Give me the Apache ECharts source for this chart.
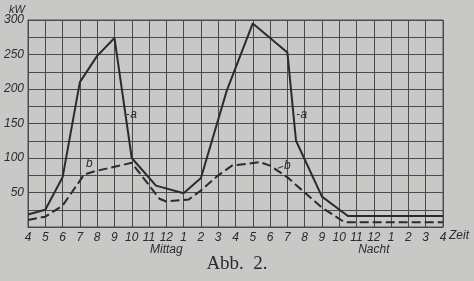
<!DOCTYPE html>
<html>
<head>
<meta charset="utf-8">
<script src="https://cdn.jsdelivr.net/npm/echarts@6/dist/echarts.min.js"></script>
<style>
html,body{margin:0;padding:0;background:#c8c8c6;}
#c{width:474px;height:281px;}
</style>
</head>
<body>
<div id="c"></div>
<script>
// hours after 4 o'clock in the morning (0 = 4 Uhr, 24 = 4 Uhr next day)
var hourLabels = ['4','5','6','7','8','9','10','11','12','1','2','3','4','5','6','7','8','9','10','11','12','1','2','3','4'];
var aTimes  = [0, 1, 2, 3, 4, 5, 6, 7.4, 9, 10, 11.5, 13, 15, 15.5, 17, 18.5, 24];
var aValues = [18, 25, 72, 210, 248, 274, 100, 60, 49, 71, 198, 295, 253, 125, 44, 16, 16];
var bTimes  = [0, 1, 2, 3.25, 3.9, 6, 7.6, 8, 9.3, 10, 11, 11.8, 13.4, 14, 15, 16, 17, 18.3, 24];
var bValues = [10, 15, 31, 76, 81, 93, 41, 37, 40, 53, 75, 89, 94, 89, 72, 50, 28, 7, 7];
var yTickLabels = [50, 100, 150, 200, 250, 300];

function pairs(xs, ys){ return xs.map(function(x,i){ return [x, ys[i]]; }); }

var ink = '#2b2b2b';
var gridCol = '#4a4a4a';
var chart = echarts.init(document.getElementById('c'));
chart.setOption({
  backgroundColor: '#c8c8c6',
  animation: false,
  grid: {left: 28, right: 31, top: 20, bottom: 54, show: true, borderColor: gridCol, borderWidth: 1},
  xAxis: {
    type: 'value', min: 0, max: 24, interval: 1,
    axisLine: {show: true, lineStyle: {color: gridCol, width: 1}},
    axisTick: {show: false},
    splitLine: {show: true, lineStyle: {color: gridCol, width: 1}},
    axisLabel: {
      margin: 5,
      formatter: function(v){
        var i = Math.round(v);
        var t = hourLabels[i];
        if (i === 8) return '{n|' + t + '}\n{w|Mittag}';
        if (i === 20) return '{n|' + t + '}\n{w|Nacht}';
        return '{n|' + t + '}';
      },
      rich: {
        n: {fontFamily: 'Liberation Sans', fontStyle: 'italic', fontSize: 12, color: ink, lineHeight: 12},
        w: {fontFamily: 'Liberation Sans', fontStyle: 'italic', fontSize: 12, color: ink, lineHeight: 11}
      }
    }
  },
  yAxis: {
    type: 'value', min: 0, max: 300, interval: 25,
    axisLine: {show: true, lineStyle: {color: gridCol, width: 1}},
    axisTick: {show: false},
    splitLine: {show: true, lineStyle: {color: gridCol, width: 1}},
    axisLabel: {
      margin: 4,
      fontFamily: 'Liberation Sans', fontStyle: 'italic', fontSize: 12, color: ink,
      formatter: function(v){ return yTickLabels.indexOf(v) >= 0 ? String(v) : ''; }
    }
  },
  series: [
    {
      type: 'line', data: pairs(aTimes, aValues), symbol: 'none',
      lineStyle: {color: ink, width: 2},
      markPoint: {
        symbol: 'circle', symbolSize: 0,
        label: {show: true, formatter: '{b}', fontFamily: 'Liberation Sans', fontStyle: 'italic', fontSize: 12, color: ink, position: 'inside'},
        data: [{name: 'a', coord: [6.1, 163]}, {name: 'a', coord: [15.95, 163]}]
      },
      markLine: {
        symbol: 'none', silent: true, label: {show: false},
        lineStyle: {color: ink, width: 1, type: 'solid'},
        data: [[{coord: [5.7, 163]}, {coord: [5.85, 163]}], [{coord: [15.55, 163]}, {coord: [15.7, 163]}]]
      }
    },
    {
      type: 'line', data: pairs(bTimes, bValues), symbol: 'none',
      lineStyle: {color: ink, width: 2, type: [9, 4]},
      markPoint: {
        symbol: 'circle', symbolSize: 0,
        label: {show: true, formatter: '{b}', fontFamily: 'Liberation Sans', fontStyle: 'italic', fontSize: 12, color: ink, position: 'inside'},
        data: [{name: 'b', coord: [3.55, 92]}, {name: 'b', coord: [15.0, 89]}]
      },
      markLine: {
        symbol: 'none', silent: true, label: {show: false},
        lineStyle: {color: ink, width: 1, type: 'solid'},
        data: [[{coord: [14.45, 85]}, {coord: [14.75, 88]}]]
      }
    }
  ],
  graphic: [
    {type: 'text', left: 9, top: 4, style: {text: 'kW', fontFamily: 'Liberation Sans', fontStyle: 'italic', fontSize: 11, fill: ink}},
    {type: 'text', left: 449, top: 230, style: {text: 'Zeit', fontFamily: 'Liberation Sans', fontStyle: 'italic', fontSize: 12, fill: ink}},
    {type: 'text', left: 'center', top: 255, style: {text: 'Abb.  2.', fontFamily: 'Liberation Serif', fontSize: 19, fill: '#2a2a2a'}}
  ]
});
</script>
</body>
</html>
